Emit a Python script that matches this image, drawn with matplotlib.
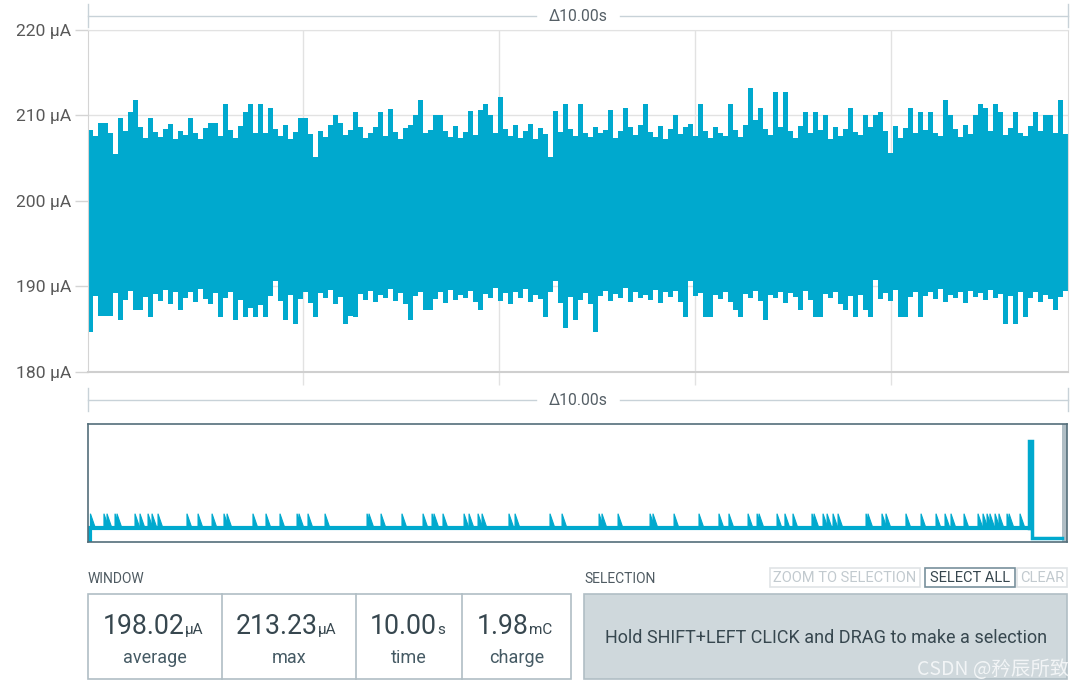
import numpy as np
import matplotlib
matplotlib.use("Agg")
import matplotlib.pyplot as plt
from matplotlib.patches import Rectangle

plt.rcParams['font.family'] = ['Roboto', 'DejaVu Sans']

# --- main window: upper / lower envelope of the current trace (µA), 196 columns over 10 s
upper = [
    208.3, 207.6, 209.1, 209.1, 207.9, 205.5, 209.7, 208.2, 210.4, 211.8, 208.6, 207.4, 209.7, 208.1,
    207.5, 208.4, 209.0, 207.3, 208.2, 207.7, 209.7, 208.0, 207.2, 208.5, 209.1, 209.1, 207.6, 211.3,
    208.3, 207.4, 208.8, 210.4, 211.3, 208.0, 211.3, 207.9, 210.9, 208.4, 207.6, 208.9, 207.3, 208.1,
    209.7, 209.7, 207.8, 205.2, 208.2, 207.5, 208.9, 210.0, 209.1, 207.7, 208.3, 210.4, 208.6, 207.4,
    208.0, 208.7, 210.4, 207.6, 210.8, 208.1, 207.3, 208.5, 208.9, 210.0, 211.8, 207.9, 208.3, 210.0,
    210.0, 208.2, 207.5, 208.8, 207.4, 208.1, 210.5, 207.7, 210.6, 211.3, 210.0, 208.0, 212.2, 208.4,
    207.6, 208.9, 207.4, 208.2, 209.0, 207.3, 208.5, 207.8, 205.2, 210.5, 208.1, 211.3, 208.4, 207.6,
    211.3, 208.0, 207.5, 208.7, 207.9, 208.3, 210.6, 207.4, 208.2, 210.9, 208.6, 207.7, 208.9, 211.3,
    208.1, 207.5, 208.8, 207.3, 208.4, 210.0, 207.8, 208.6, 209.0, 207.6, 211.3, 208.2, 207.4, 208.7,
    208.0, 207.6, 211.3, 208.3, 207.5, 208.9, 213.2, 209.5, 210.9, 208.4, 207.7, 212.7, 208.6, 212.7,
    208.2, 207.4, 208.8, 210.4, 207.9, 210.4, 208.3, 210.0, 207.3, 208.7, 207.6, 208.4, 210.9, 208.1,
    207.7, 210.0, 208.6, 210.0, 210.4, 208.2, 205.6, 208.8, 207.4, 208.5, 210.9, 207.9, 210.4, 208.3,
    210.4, 208.0, 207.6, 211.8, 210.0, 208.4, 207.5, 208.9, 207.8, 210.0, 211.3, 210.9, 208.2, 211.3,
    210.4, 207.7, 208.5, 210.4, 208.0, 207.6, 208.8, 210.4, 208.2, 210.0, 210.0, 207.9, 211.8, 207.8,
]
lower = [
    184.7, 188.9, 186.5, 186.5, 186.5, 189.2, 186.1, 188.4, 189.5, 187.2, 187.2, 188.8, 186.4, 189.1,
    188.3, 189.6, 188.0, 189.3, 187.2, 188.7, 189.4, 188.2, 189.7, 188.5, 187.9, 189.2, 186.4, 188.6,
    189.3, 186.1, 188.4, 186.4, 187.5, 186.4, 187.8, 186.4, 188.9, 190.6, 188.3, 186.1, 189.0, 185.6,
    188.5, 189.4, 188.1, 186.4, 189.2, 188.7, 189.6, 188.0, 188.8, 185.6, 186.6, 186.4, 189.1, 188.4,
    189.5, 188.2, 189.0, 188.6, 189.7, 188.3, 189.2, 188.0, 186.1, 188.9, 189.4, 187.2, 187.2, 188.5,
    189.3, 188.1, 189.6, 188.4, 189.0, 188.7, 189.5, 188.2, 187.2, 189.1, 188.6, 189.8, 188.3, 189.2,
    188.0, 189.4, 188.7, 189.7, 188.2, 189.0, 188.5, 186.4, 189.3, 190.6, 188.1, 185.1, 188.8, 186.1,
    188.4, 189.2, 188.0, 184.7, 188.9, 189.5, 188.3, 189.1, 188.6, 189.8, 188.2, 189.4, 188.7, 189.0,
    188.4, 189.6, 188.1, 189.3, 188.8, 189.5, 188.2, 186.4, 190.6, 188.9, 189.2, 186.4, 186.4, 189.0,
    188.5, 189.4, 188.2, 187.2, 186.4, 189.1, 188.7, 189.5, 188.3, 186.1, 189.0, 188.6, 189.4, 188.1,
    189.2, 188.8, 187.2, 189.5, 188.4, 186.4, 186.4, 189.1, 188.6, 189.3, 188.0, 187.2, 188.9, 186.4,
    189.0, 187.2, 186.4, 190.8, 188.5, 189.2, 188.3, 189.6, 186.4, 186.4, 188.8, 189.4, 186.4, 188.9,
    189.3, 188.5, 189.7, 188.2, 189.0, 188.6, 189.4, 188.1, 189.5, 188.8, 189.2, 188.4, 189.6, 188.7,
    189.1, 185.6, 188.9, 185.6, 189.3, 186.4, 188.6, 189.4, 188.2, 189.0, 188.5, 187.2, 188.8, 189.5,
]
window_s = 10.0
y_ticks = [180, 190, 200, 210, 220]
grid_times = [2.19, 4.19, 6.19, 8.19]

# --- overview strip (position in % of recording, current in µA)
mini_spikes = [0.25, 1.63, 1.94, 2.76, 2.96, 4.80, 5.31, 6.13, 6.54, 7.15, 10.11, 11.24, 12.67,
               13.89, 14.20, 16.85, 18.18, 19.61, 21.35, 21.55, 22.47, 24.21, 28.50, 28.70, 29.93,
               32.07, 34.22, 35.14, 35.34, 36.26, 38.41, 38.92, 39.84, 40.25, 43.00, 43.62, 47.19,
               48.42, 52.20, 52.50, 54.14, 57.41, 57.71, 59.86, 62.41, 64.45, 65.47, 67.42, 68.34,
               68.54, 70.38, 71.19, 72.01, 73.95, 74.16, 75.08, 75.49, 76.10, 76.61, 79.47, 79.67,
               81.10, 81.51, 83.55, 85.09, 86.62, 87.54, 88.15, 89.48, 90.91, 91.42, 91.83, 92.13,
               92.65, 93.05, 93.87, 94.08, 95.20]
mini_base = 198
mini_peak = 400
mini_big = 1430
mini_tail = 55
mini_big_at = 96.1
mini_end = 99.5

stat_values = ['198.02', '213.23', '10.00', '1.98']
stat_units = ['µA', 'µA', 's', 'mC']
stat_labels = ['average', 'max', 'time', 'charge']
buttons = ['ZOOM TO SELECTION', 'SELECT ALL', 'CLEAR']

CYAN = '#00a9ce'
W, H = 1075, 685


def box(x0, y0, x1, y1):
    return [x0 / W, 1 - y1 / H, (x1 - x0) / W, (y1 - y0) / H]


fig = plt.figure(figsize=(W / 100, H / 100), dpi=100)

ui = fig.add_axes([0, 0, 1, 1])
ui.set_xlim(0, W)
ui.set_ylim(H, 0)
ui.axis('off')

# main chart
ax = fig.add_axes(box(88, 30, 1068, 372))
edges = np.linspace(0, window_s, len(upper) + 1)
ax.stairs(upper, edges, baseline=lower, fill=True, color=CYAN, lw=0)
ax.set_xlim(0, window_s)
ax.set_ylim(180, 220)
ax.set_xticks(grid_times)
ax.set_xticklabels([])
ax.set_yticks(y_ticks)
ax.set_yticklabels([f'{v} µA' for v in y_ticks], color='#585858', fontsize=12.6)
ax.grid(True, color='#e2e2e2', lw=1)
ax.set_axisbelow(True)
ax.tick_params(axis='x', length=9.4, color='#e2e2e2', width=1)
ax.tick_params(axis='y', length=9.4, color='#d4d4d4', width=1, pad=2.5)
ax.spines['top'].set_color('#e2e2e2')
ax.spines['left'].set_color('#d4d4d4')
ax.spines['right'].set_color('#dcdcdc')
ax.spines['bottom'].set_color('#cfcfcf')
ax.spines['bottom'].set_linewidth(1.5)

# overview strip
mx = fig.add_axes(box(88, 424, 1067, 542))
mx.set_xlim(0, 100)
mx.set_ylim(0, 1670)
mx.plot([0, 0.2, 0.2, mini_big_at], [0, 0, mini_base, mini_base], color=CYAN, lw=3,
        solid_joinstyle='miter')
for s in mini_spikes:
    mx.fill([s, s, s + 0.5], [mini_base, mini_peak, mini_base], color=CYAN, lw=0.8)
mx.plot([mini_big_at, mini_big_at, mini_big_at + 0.3, mini_big_at + 0.3, mini_end],
        [mini_base, mini_big, mini_big, mini_tail, mini_tail], color=CYAN, lw=2.5,
        solid_joinstyle='miter')
mx.axvspan(mini_end, 100, color='#b0bec5', lw=0)
mx.set_xticks([])
mx.set_yticks([])
for sp in mx.spines.values():
    sp.set_color('#546e7a')
    sp.set_linewidth(1.2)

# Δ brackets
for yb in (16, 400):
    ui.plot([88, 536], [yb, yb], color='#c8d2d8', lw=1)
    ui.plot([620, 1068], [yb, yb], color='#c8d2d8', lw=1)
    for xe in (88, 1068):
        ui.plot([xe, xe], [yb - 12, yb + 11], color='#c8d2d8', lw=1)
    ui.text(578, yb, 'Δ10.00s', ha='center', va='center', fontsize=11.3, color='#555f66')

# window stats
ui.text(88, 583, 'WINDOW', fontsize=10, color='#4f5b62', va='baseline')
ui.add_patch(Rectangle((88, 594), 483, 85, fill=False, ec='#b0bec5', lw=1.2))
for xd in (222, 356, 462):
    ui.plot([xd, xd], [594, 679], color='#b0bec5', lw=1.2)
splits = [184.5, 317.5, 437, 528.5]
centers = [155, 289, 409, 516.5]
for v, u, lab, xs, xc in zip(stat_values, stat_units, stat_labels, splits, centers):
    ui.text(xs, 634, v, ha='right', va='baseline', fontsize=19.2, color='#37474f')
    ui.text(xs, 634, u, ha='left', va='baseline', fontsize=11, color='#37474f')
    ui.text(xc, 663, lab, ha='center', va='baseline', fontsize=13, color='#455a64')

# selection panel
ui.text(584, 583, 'SELECTION', fontsize=10, color='#4f5b62', va='baseline')
btn_boxes = [(770, 150), (925, 90), (1017, 50)]
btn_edge = ['#e0e4e6', '#78909c', '#e0e4e6']
btn_text = ['#c2cacf', '#37474f', '#c2cacf']
for name, (bx, bw), ec, tc in zip(buttons, btn_boxes, btn_edge, btn_text):
    ui.add_patch(Rectangle((bx, 568), bw, 19, fill=False, ec=ec, lw=1.2))
    ui.text(bx + bw / 2, 578, name, ha='center', va='center', fontsize=10.5, color=tc)
ui.add_patch(Rectangle((584, 594), 483, 85, fc='#cfd8dc', ec='#b0bec5', lw=1.2))
ui.text(826, 643, 'Hold SHIFT+LEFT CLICK and DRAG to make a selection', ha='center',
        va='baseline', fontsize=13, color='#37474f')

ui.text(1069, 675, 'CSDN @矜辰所致', ha='right', va='baseline', fontsize=14,
        color='#f6f8f9', alpha=0.9, family=['Noto Sans CJK SC', 'DejaVu Sans'])

fig.savefig('out.png', dpi=100)
